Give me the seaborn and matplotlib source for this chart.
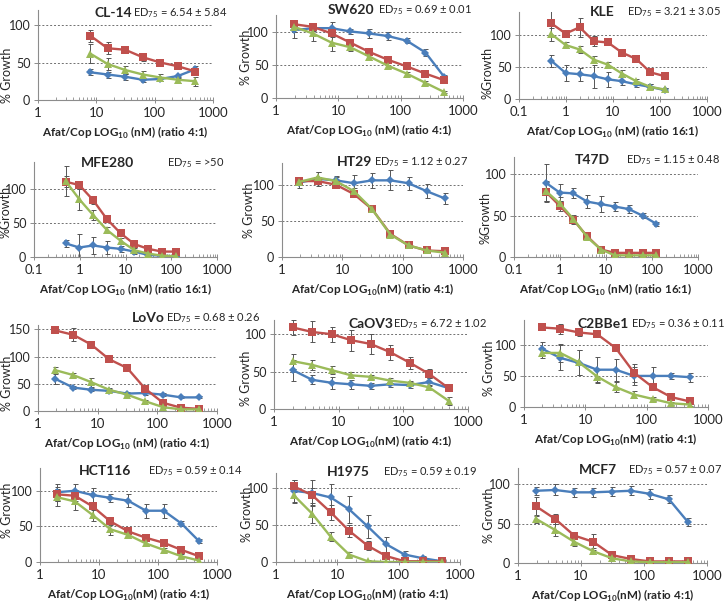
import numpy as np
import pandas as pd
import matplotlib
matplotlib.use("Agg")
import matplotlib.pyplot as plt
import seaborn as sns

## doses (nM) for the two mixing ratios
DOSE_4 = [1.95, 3.9, 7.8, 15.6, 31.25, 62.5, 125, 250, 500]
DOSE_16 = [0.49, 0.98, 1.95, 3.9, 7.8, 15.6, 31.25, 62.5, 125]
DOSE_CL14 = [7.8, 15.6, 31.25, 62.5, 125, 250, 500]

SERIES = ["Cop", "Afat", "Afat/Cop"]   # blue diamond, red square, green triangle

## % growth, per panel: [blue, red, green] and matching error bars
CL14_Y = [[37, 34, 31, 27, 28, 32, 41], [86, 69, 67, 57, 50, 45, 38], [62, 48, 40, 34, 30, 27, 25]]
CL14_E = [[4, 4, 4, 3, 3, 3, 4], [8, 8, 3, 5, 2, 2, 4], [13, 8, 5, 5, 5, 4, 6]]
SW620_Y = [[103, 106, 106, 101, 98, 94, 87, 69, 32], [112, 108, 98, 84, 70, 58, 48, 37, 27], [108, 98, 84, 77, 63, 49, 37, 23, 9]]
SW620_E = [[12, 4, 10, 4, 7, 6, 4, 5, 3], [4, 4, 5, 4, 4, 4, 3, 3, 3], [8, 12, 12, 5, 5, 4, 3, 3, 2]]
KLE_Y = [[60, 41, 39, 36, 31, 28, 23, 19, 14], [119, 103, 113, 91, 89, 73, 63, 42, 36], [102, 85, 78, 62, 54, 40, 28, 19, 15]]
KLE_E = [[10, 12, 10, 18, 12, 6, 4, 4, 3], [20, 4, 15, 8, 3, 5, 3, 4, 3], [10, 4, 5, 6, 4, 5, 4, 4, 3]]
MFE280_Y = [[20, 14, 17, 14, 12, 8, 3, 2, 1], [111, 106, 84, 56, 35, 19, 12, 8, 8], [112, 85, 62, 40, 24, 10, 5, 2, 1]]
MFE280_E = [[5, 20, 12, 9, 4, 3, 2, 1, 1], [8, 5, 6, 4, 3, 3, 2, 2, 2], [22, 15, 8, 4, 4, 3, 2, 2, 1]]
HT29_Y = [[103, 108, 106, 102, 106, 106, 102, 91, 81], [105, 105, 100, 87, 66, 32, 16, 9, 8], [104, 110, 105, 91, 66, 31, 16, 9, 6]]
HT29_E = [[8, 10, 6, 12, 10, 14, 9, 10, 8], [4, 4, 3, 4, 3, 3, 2, 2, 2], [4, 8, 5, 4, 3, 3, 2, 2, 2]]
T47D_Y = [[90, 78, 77, 67, 64, 61, 58, 50, 40], [79, 62, 45, 25, 9, 5, 5, 5, 5], [80, 65, 46, 24, 9, 2, 2, 2, 2]]
T47D_E = [[22, 10, 6, 8, 10, 5, 5, 3, 2], [12, 6, 5, 3, 2, 1, 1, 1, 1], [12, 7, 5, 3, 2, 1, 1, 1, 1]]
LOVO_Y = [[59, 43, 39, 37, 32, 33, 30, 25, 25], [148, 140, 122, 95, 79, 41, 15, 6, 4], [75, 66, 53, 39, 30, 18, 7, 3, 3]]
LOVO_E = [[9, 3, 3, 3, 3, 3, 3, 2, 2], [4, 12, 4, 5, 4, 4, 3, 2, 2], [5, 4, 8, 3, 3, 2, 2, 2, 2]]
CAOV3_Y = [[52, 39, 35, 33, 31, 33, 32, 36, 28], [109, 103, 100, 92, 87, 76, 62, 47, 28], [64, 59, 52, 45, 43, 38, 35, 29, 11]]
CAOV3_E = [[14, 6, 8, 6, 4, 4, 4, 5, 3], [10, 14, 10, 14, 13, 10, 8, 6, 4], [10, 7, 5, 4, 3, 3, 3, 3, 5]]
C2BBE1_Y = [[94, 79, 71, 60, 60, 50, 50, 50, 48], [128, 126, 120, 117, 95, 55, 32, 16, 9], [87, 87, 72, 49, 32, 20, 13, 6, 4]]
C2BBE1_E = [[10, 20, 20, 20, 18, 15, 15, 5, 7], [3, 8, 5, 4, 4, 15, 5, 3, 3], [8, 15, 20, 10, 8, 5, 3, 2, 2]]
HCT116_Y = [[98, 100, 94, 90, 86, 72, 72, 54, 29], [95, 93, 78, 57, 43, 34, 27, 17, 8], [91, 85, 66, 46, 38, 26, 17, 8, 2]]
HCT116_E = [[12, 10, 10, 6, 9, 10, 10, 4, 3], [10, 8, 5, 5, 4, 3, 3, 3, 3], [12, 12, 8, 8, 4, 4, 3, 3, 2]]
H1975_Y = [[96, 93, 87, 71, 48, 24, 10, 5, 1], [102, 90, 67, 42, 22, 8, 1, 1, 1], [90, 65, 34, 10, 1, 0, 0, 0, 0]]
H1975_E = [[15, 18, 18, 18, 15, 10, 5, 3, 2], [8, 10, 10, 8, 6, 4, 2, 2, 2], [10, 12, 6, 3, 2, 1, 1, 1, 1]]
MCF7_Y = [[92, 93, 90, 90, 91, 92, 88, 81, 52], [72, 56, 35, 27, 10, 5, 2, 2, 2], [56, 42, 27, 15, 6, 2, 1, 1, 1]]
MCF7_E = [[5, 7, 6, 6, 6, 6, 6, 5, 5], [12, 6, 5, 10, 4, 2, 1, 1, 1], [5, 8, 5, 4, 3, 2, 1, 1, 1]]

NAMES = ["CL-14", "SW620", "KLE", "MFE280", "HT29", "T47D",
         "LoVo", "CaOV3", "C2BBe1", "HCT116", "H1975", "MCF7"]
ED75 = ["6.54 ± 5.84", "0.69 ± 0.01", "3.21 ± 3.05", ">50", "1.12 ± 0.27", "1.15 ± 0.48",
        "0.68 ± 0.26", "6.72 ± 1.02", "0.36 ± 0.11", "0.59 ± 0.14", "0.59 ± 0.19", "0.57 ± 0.07"]
RATIO = ["4:1", "4:1", "16:1", "16:1", "4:1", "16:1", "4:1", "4:1", "4:1", "4:1", "4:1", "4:1"]
DOSES = [DOSE_CL14, DOSE_4, DOSE_16, DOSE_16, DOSE_4, DOSE_16,
         DOSE_4, DOSE_4, DOSE_4, DOSE_4, DOSE_4, DOSE_4]
YS = [CL14_Y, SW620_Y, KLE_Y, MFE280_Y, HT29_Y, T47D_Y, LOVO_Y, CAOV3_Y, C2BBE1_Y, HCT116_Y, H1975_Y, MCF7_Y]
ES = [CL14_E, SW620_E, KLE_E, MFE280_E, HT29_E, T47D_E, LOVO_E, CAOV3_E, C2BBE1_E, HCT116_E, H1975_E, MCF7_E]
YTOP = [120, 126, 137, 140, 130, 121, 158, 119, 140, 132, 120, 121]
YLABEL = ["% Growth", "% Growth", "%Growth", "%Growth", "% Growth", "%Growth",
          "% Growth", "% Growth", "% Growth", "% Growth", "% Growth", "% Growth"]
LOGSPACE = [True, True, True, True, False, True, True, False, False, False, False, False]

## layout in pixels: axes box (left, right, top, bottom), title centre x, ED text left x, text y,
## y-label centre (x, y)
BOX = [(38, 213, 10, 100), (276, 463, 15, 98), (519, 707, 12, 99),
       (34, 217, 162, 257), (282, 463, 163, 257), (514, 698, 157, 257),
       (38, 217, 325, 411), (274, 468, 320, 409), (524, 708, 320, 407),
       (40, 217, 468, 562), (276, 460, 473, 562), (518, 707, 468, 563)]
TXT = [(113, 133, 13), (351, 378, 10), (602, 627, 12),
       (108, 167, 163), (355, 374, 162), (592, 626, 160),
       (148, 166, 318), (371, 393, 324), (603, 631, 324),
       (105, 148, 471), (348, 383, 472), (598, 628, 470)]
YLAB = [(7, 75), (246, 57), (487, 73), (6, 212), (249, 210), (486, 218),
        (7, 383), (246, 378), (489, 368), (7, 510), (247, 514), (489, 515)]

PALETTE = {"Cop": "#4A7EBB", "Afat": "#C0504D", "Afat/Cop": "#9BBB59"}
MARKERS = {"Cop": "D", "Afat": "s", "Afat/Cop": "^"}
MSIZE = {"Cop": 4.5, "Afat": 6, "Afat/Cop": 6}

sns.set_theme(style="ticks")
plt.rcParams['font.family'] = ['Lato', 'DejaVu Sans']
plt.rcParams['mathtext.fontset'] = 'custom'
plt.rcParams['mathtext.rm'] = 'Lato'
plt.rcParams['mathtext.bf'] = 'Lato:bold'
plt.rcParams['axes.edgecolor'] = '#8c8c8c'

W, H = 724, 608
fig = plt.figure(figsize=(W / 100, H / 100), dpi=100)
fig.patch.set_facecolor("white")

for i, name in enumerate(NAMES):
    l, r, t, b = BOX[i]
    ax = fig.add_axes([l / W, 1 - b / H, (r - l) / W, (b - t) / H])
    dose = DOSES[i]
    rows = []
    for s, ys, es in zip(SERIES, YS[i], ES[i]):
        for d, y, e in zip(dose, ys, es):
            rows.append({"dose": d, "growth": y, "err": e, "series": s})
    df = pd.DataFrame(rows)

    ax.set_xscale("log")
    xmin = 0.1 if RATIO[i] == "16:1" else 1
    ax.set_xlim(xmin, 1000)
    ax.set_ylim(0, YTOP[i])
    yt = [0, 50, 100, 150] if YTOP[i] > 150 else [0, 50, 100]
    ax.set_yticks(yt)
    for g in yt[1:]:
        ax.axhline(g, color="#707070", lw=0.7, ls=(0, (2, 2)), zorder=1)

    # error bars first, then lines with markers
    for s in SERIES:
        sub = df[df["series"] == s]
        ax.errorbar(sub["dose"], sub["growth"], yerr=sub["err"], fmt="none",
                    ecolor="#555555", elinewidth=0.7, capsize=1.8, capthick=0.7, zorder=2)
    for s in SERIES:
        sub = df[df["series"] == s]
        sns.lineplot(data=sub, x="dose", y="growth", color=PALETTE[s], marker=MARKERS[s],
                     markersize=MSIZE[s], markeredgewidth=0, lw=1.7, ax=ax, legend=False, zorder=3)

    decades = [v for v in [0.1, 1, 10, 100, 1000] if v >= xmin]
    ax.set_xticks(decades)
    ax.set_xticklabels([("%g" % v) for v in decades])
    ax.xaxis.set_minor_locator(matplotlib.ticker.LogLocator(base=10, subs=np.arange(2, 10)))
    ax.xaxis.set_minor_formatter(matplotlib.ticker.NullFormatter())
    ax.tick_params(axis="x", which="major", direction="inout", length=4, width=0.7,
                   color="#8c8c8c", labelsize=9.5, pad=3)
    ax.tick_params(axis="x", which="minor", direction="in", length=2.5, width=0.6, color="#8c8c8c")
    ax.tick_params(axis="y", direction="out", length=3, width=0.7, color="#8c8c8c",
                   labelsize=9, pad=2.5)
    sns.despine(ax=ax)
    for sp in ["left", "bottom"]:
        ax.spines[sp].set_linewidth(0.8)

    sp = " " if LOGSPACE[i] else ""
    ax.set_xlabel("Afat/Cop LOG$_\\mathbf{10}$%s(nM) (ratio %s)" % (sp, RATIO[i]),
                  fontsize=8.4, fontweight="bold", labelpad=4)
    ax.set_ylabel(YLABEL[i], fontsize=9)
    lx, ly = YLAB[i]
    ax.yaxis.label.set_va("center")
    ax.yaxis.set_label_coords((lx - l) / (r - l), (b - ly) / (b - t))

    cx, ex, ty = TXT[i]
    fig.text(cx / W, 1 - ty / H, name, fontsize=10, fontweight="bold", ha="center", va="center")
    fig.text(ex / W, 1 - ty / H, "ED$_{75}$ = " + ED75[i], fontsize=8.0, ha="left", va="center")

fig.savefig("out.png", dpi=100)
